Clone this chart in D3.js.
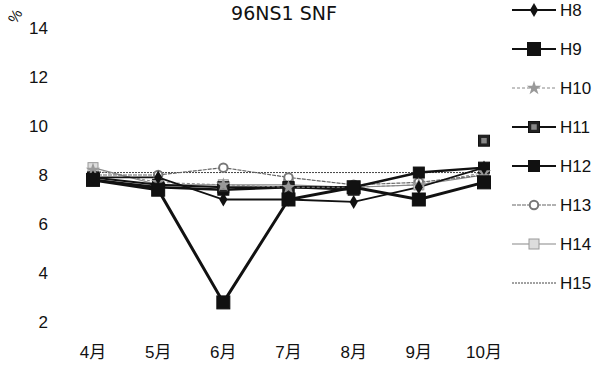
<!DOCTYPE html>
<html>
<head>
<meta charset="utf-8">
<script src="https://cdn.jsdelivr.net/npm/d3@7"></script>
<style>
  body { margin: 0; background: #fff; }
  text { font-family: "Liberation Sans", Arial, "Noto Sans CJK JP", sans-serif; fill: #111; }
</style>
</head>
<body>
<div id="chart"></div>
<script>
var months = ["4月", "5月", "6月", "7月", "8月", "9月", "10月"];
var yTicks = [2, 4, 6, 8, 10, 12, 14];
var seriesNames = ["H8", "H9", "H10", "H11", "H12", "H13", "H14", "H15"];

var h8 = [7.9, 7.9, 7.0, 7.0, 6.9, 7.5, 8.3];
var h9 = [7.8, 7.4, 2.8, 7.0, 7.5, 7.0, 7.7];
var h10 = [8.2, 7.7, 7.6, 7.5, 7.5, 7.6, 8.1];
var h11 = [7.9, 7.6, 7.5, 7.5, 7.4, null, 9.4];
var h12 = [7.8, 7.5, 7.4, 7.5, 7.5, 8.1, 8.3];
var h13 = [8.0, 8.0, 8.3, 7.9, 7.6, 7.7, 8.0];
var h14 = [8.3, 7.6, 7.6, 7.6, 7.5, 7.6, 8.0];
var h15 = [8.1, 8.1, 8.1, 8.1, 8.1, 8.1, 8.1];

var w = 608, h = 374;

var svg = d3.select("#chart").append("svg")
  .attr("width", w)
  .attr("height", h);

var x = d3.scalePoint().domain(months).range([93, 484]);
var y = d3.scaleLinear().domain([2, 14]).range([322, 28]);

// styles for each series
var styles = {
  H8:  {stroke: "#111", width: 1.8, dash: null, marker: "diamond", size: 8, fill: "#111"},
  H9:  {stroke: "#111", width: 3, dash: null, marker: "square", size: 13, fill: "#111"},
  H10: {stroke: "#888", width: 1, dash: "3,2", marker: "star", size: 9, fill: "#999"},
  H11: {stroke: "#111", width: 2, dash: null, marker: "square", size: 11, fill: "#222"},
  H12: {stroke: "#111", width: 2.4, dash: null, marker: "square", size: 11, fill: "#111"},
  H13: {stroke: "#666", width: 1.2, dash: "4,1", marker: "circle", size: 9, fill: "#777"},
  H14: {stroke: "#888", width: 1.2, dash: null, marker: "square", size: 10, fill: "#ddd"},
  H15: {stroke: "#444", width: 1, dash: "2,1", marker: null, size: 0, fill: "none"}
};

var allData = [h8, h9, h10, h11, h12, h13, h14, h15];
var series = seriesNames.map(function (name, i) {
  return {name: name, values: allData[i]};
});

// y tick labels
svg.append("g").selectAll("text")
  .data(yTicks)
  .enter().append("text")
  .attr("x", 48)
  .attr("y", function (d) { return y(d); })
  .attr("dy", "0.36em")
  .attr("text-anchor", "end")
  .style("font-size", "17px")
  .text(function (d) { return d; });

// % unit
svg.append("text")
  .attr("transform", "translate(15,16) rotate(-60)")
  .attr("text-anchor", "middle")
  .attr("dy", "0.35em")
  .style("font-size", "15px")
  .text("%");

// title
svg.append("text")
  .attr("x", 284)
  .attr("y", 20)
  .attr("text-anchor", "middle")
  .style("font-family", "DejaVu Sans, sans-serif")
  .style("font-size", "19px")
  .text("96NS1 SNF");

// x labels
svg.append("g").selectAll("text")
  .data(months)
  .enter().append("text")
  .attr("x", function (d) { return x(d); })
  .attr("y", 358)
  .attr("text-anchor", "middle")
  .style("font-size", "17px")
  .text(function (d) { return d; });

var line = d3.line()
  .defined(function (d) { return d.v !== null; })
  .x(function (d) { return x(d.m); })
  .y(function (d) { return y(d.v); });

function pts(s) {
  return s.values.map(function (v, i) { return {m: months[i], v: v}; });
}

// draw in reverse so H8/H9 sit on top
var order = series.slice().reverse();

svg.append("g").selectAll("path")
  .data(order)
  .enter().append("path")
  .attr("fill", "none")
  .attr("stroke", function (d) { return styles[d.name].stroke; })
  .attr("stroke-width", function (d) { return styles[d.name].width; })
  .attr("stroke-dasharray", function (d) { return styles[d.name].dash; })
  .attr("d", function (d) { return line(pts(d)); });

function drawMarker(g, name, cx, cy) {
  var st = styles[name];
  if (!st.marker) return;
  var s = st.size;
  if (st.marker === "square") {
    g.append("rect")
      .attr("x", cx - s / 2).attr("y", cy - s / 2)
      .attr("width", s).attr("height", s)
      .attr("fill", st.fill)
      .attr("stroke", name === "H14" ? "#999" : "#111")
      .attr("stroke-width", 1);
    if (name === "H11") {
      g.append("rect")
        .attr("x", cx - s / 4).attr("y", cy - s / 4)
        .attr("width", s / 2).attr("height", s / 2)
        .attr("fill", "#888");
    }
  } else if (st.marker === "diamond") {
    g.append("path")
      .attr("d", d3.symbol().type(d3.symbolDiamond).size(s * s * 0.9)())
      .attr("transform", "translate(" + cx + "," + cy + ")")
      .attr("fill", st.fill);
  } else if (st.marker === "star") {
    g.append("path")
      .attr("d", d3.symbol().type(d3.symbolStar).size(s * s * 0.8)())
      .attr("transform", "translate(" + cx + "," + cy + ")")
      .attr("fill", st.fill);
  } else if (st.marker === "circle") {
    g.append("path")
      .attr("d", d3.symbol().type(d3.symbolCircle).size(s * s * 0.7)())
      .attr("transform", "translate(" + cx + "," + cy + ")")
      .attr("fill", "#fff")
      .attr("stroke", st.fill)
      .attr("stroke-width", 2);
  }
}

var mg = svg.append("g");
order.forEach(function (s) {
  pts(s).forEach(function (p) {
    if (p.v === null) return;
    drawMarker(mg, s.name, x(p.m), y(p.v));
  });
});

// legend
var lg = svg.append("g");
seriesNames.forEach(function (name, i) {
  var ly = 10 + i * 39;
  var st = styles[name];
  lg.append("line")
    .attr("x1", 512).attr("x2", 556)
    .attr("y1", ly).attr("y2", ly)
    .attr("stroke", st.stroke)
    .attr("stroke-width", Math.min(st.width, 2))
    .attr("stroke-dasharray", st.dash);
  drawMarker(lg, name, 534, ly);
  lg.append("text")
    .attr("x", 560)
    .attr("y", ly)
    .attr("dy", "0.36em")
    .style("font-size", "17px")
    .text(name);
});
</script>
</body>
</html>
